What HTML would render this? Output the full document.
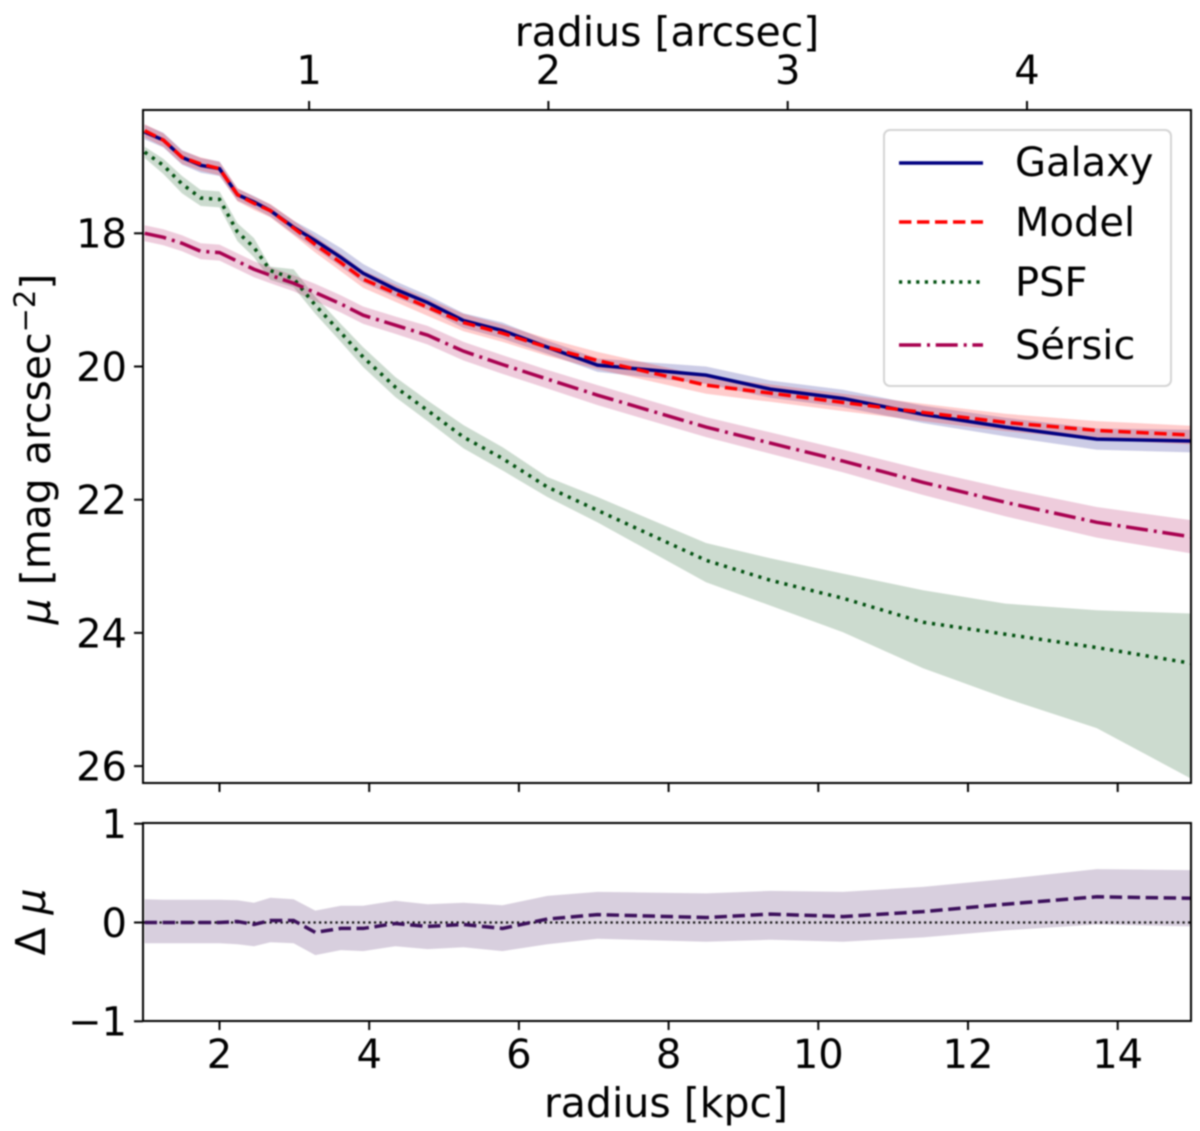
<!DOCTYPE html>
<html>
<head>
<meta charset="utf-8">
<title>Surface brightness profile</title>
<style>
html,body{margin:0;padding:0;background:#fff;width:1200px;height:1131px;overflow:hidden}
svg{display:block;filter:blur(0.7px)}
text{font-family:"DejaVu Sans","Liberation Sans",sans-serif;fill:#000}
</style>
</head>
<body>
<svg id="chart" xmlns="http://www.w3.org/2000/svg" width="1200" height="1131" viewBox="0 0 1200 1131">
  <defs>
    <clipPath id="clip-top"><rect x="143" y="110" width="1048" height="673"/></clipPath>
    <clipPath id="clip-bottom"><rect x="143" y="823" width="1048" height="198"/></clipPath>
  </defs>
  <rect x="0" y="0" width="1200" height="1131" fill="#fff"/>
  <g id="top-marks" clip-path="url(#clip-top)"></g>
  <g id="bottom-marks" clip-path="url(#clip-bottom)"></g>
  <g id="ticks"></g>
  <rect x="143" y="110" width="1048" height="673" fill="none" stroke="#000" stroke-width="2"/>
  <rect x="143" y="823" width="1048" height="198" fill="none" stroke="#000" stroke-width="2"/>

  <text x="667" y="46" font-size="41" text-anchor="middle">radius [arcsec]</text>
  <text x="666" y="1117" font-size="41" text-anchor="middle">radius [kpc]</text>
  <text transform="translate(50,449) rotate(-90)" font-size="41" text-anchor="middle"><tspan font-style="italic">μ</tspan> [mag arcsec<tspan font-size="29" dy="-15">−2</tspan><tspan dy="15">]</tspan></text>
  <text transform="translate(45,922) rotate(-90)" font-size="41" text-anchor="middle">Δ <tspan font-style="italic">μ</tspan></text>

  <g>
    <rect x="884" y="130" width="287" height="256" rx="6" ry="6" fill="#fff" fill-opacity="0.8" stroke="#d4d4d4" stroke-width="2"/>
    <line x1="899" x2="983" y1="163" y2="163" stroke="#000080" stroke-width="3.5"/>
    <text x="1015" y="176" font-size="40">Galaxy</text>
    <line x1="899" x2="983" y1="222" y2="222" stroke="#ff0000" stroke-width="3.5" stroke-dasharray="12.4 5.6"/>
    <text x="1015" y="236" font-size="40">Model</text>
    <line x1="899" x2="983" y1="282" y2="282" stroke="#00500f" stroke-width="3.5" stroke-dasharray="3.2 5.4"/>
    <text x="1015" y="296" font-size="40">PSF</text>
    <line x1="899" x2="983" y1="345" y2="345" stroke="#a8004f" stroke-width="3.5" stroke-dasharray="22 6 3 5.7"/>
    <text x="1015" y="359" font-size="40">Sérsic</text>
  </g>
</svg>
<script>
// Chart data
const radiusKpc = [1.0,1.25,1.5,1.75,2.0,2.24,2.46,2.68,2.99,3.28,3.62,3.92,4.35,4.78,5.26,5.78,6.38,7.05,8.5,9.36,10.33,11.4,12.5,13.72,15];
const galaxyMu = [16.48,16.60,16.86,16.98,17.03,17.42,17.53,17.66,17.91,18.11,18.36,18.60,18.84,19.04,19.31,19.46,19.71,19.98,20.13,20.34,20.48,20.72,20.91,21.09,21.12];
const galaxyErr = [0.11,0.11,0.11,0.11,0.11,0.09,0.09,0.09,0.10,0.12,0.14,0.14,0.12,0.11,0.11,0.12,0.10,0.10,0.13,0.13,0.13,0.13,0.14,0.16,0.17];
const modelMu = [16.46,16.60,16.86,16.96,17.03,17.42,17.55,17.66,17.92,18.17,18.44,18.69,18.90,19.11,19.34,19.50,19.71,19.91,20.28,20.40,20.54,20.69,20.84,20.96,21.03];
const modelErr = [0.10,0.10,0.10,0.10,0.10,0.10,0.10,0.10,0.11,0.12,0.13,0.13,0.13,0.13,0.13,0.13,0.13,0.13,0.13,0.13,0.13,0.13,0.13,0.14,0.14];
const psfMu = [16.78,16.98,17.26,17.47,17.49,17.98,18.21,18.56,18.68,19.08,19.49,19.86,20.31,20.66,21.06,21.38,21.81,22.16,22.91,23.21,23.48,23.84,24.02,24.22,24.46];
const psfUpper = [16.70,16.88,17.14,17.35,17.37,17.85,18.07,18.50,18.54,18.95,19.36,19.71,20.16,20.51,20.88,21.21,21.66,21.96,22.65,22.88,23.11,23.36,23.56,23.66,23.71];
const psfLower = [16.87,17.11,17.40,17.59,17.61,18.12,18.36,18.70,18.81,19.21,19.63,20.01,20.46,20.82,21.23,21.56,21.96,22.34,23.24,23.59,23.99,24.53,24.98,25.43,26.2];
const sersicMu = [18.0,18.06,18.15,18.27,18.29,18.42,18.54,18.63,18.75,18.89,19.06,19.23,19.38,19.53,19.77,19.97,20.19,20.43,20.91,21.15,21.42,21.74,22.04,22.34,22.56];
const sersicErr = [0.12,0.12,0.12,0.12,0.12,0.12,0.12,0.12,0.12,0.13,0.13,0.13,0.13,0.14,0.14,0.14,0.14,0.15,0.15,0.16,0.17,0.19,0.21,0.23,0.25];
const residual = [0.0,0.0,0.0,0.0,0.0,0.01,-0.02,0.02,0.02,-0.10,-0.06,-0.06,-0.01,-0.04,-0.02,-0.06,0.035,0.08,0.05,0.085,0.06,0.11,0.185,0.26,0.245];
const residualUpper = [0.235,0.23,0.23,0.23,0.23,0.225,0.20,0.25,0.235,0.12,0.17,0.17,0.22,0.185,0.20,0.175,0.27,0.31,0.295,0.32,0.31,0.36,0.44,0.54,0.53];
const residualLower = [-0.21,-0.21,-0.21,-0.21,-0.21,-0.22,-0.24,-0.20,-0.21,-0.33,-0.28,-0.29,-0.24,-0.27,-0.25,-0.29,-0.22,-0.165,-0.195,-0.175,-0.195,-0.15,-0.08,-0.02,-0.04];
const kpcTicks = [2,4,6,8,10,12,14];
const arcsecTicks = [1,2,3,4];
const muTicks = [18,20,22,24,26];
const deltaTicks = [-1,0,1];
const kpcPerArcsec = 3.197;

// Axis functions
function xKpc(v){ return 219.5 + (v - 2) * 74.85; }
function xArcsec(v){ return xKpc(v * kpcPerArcsec); }
function yMu(v){ return 233.3 + (v - 18) * 66.6; }
function yDelta(v){ return 922.5 - v * 98.8; }

const NS = 'http://www.w3.org/2000/svg';
const topMarks = document.getElementById('top-marks');
const bottomMarks = document.getElementById('bottom-marks');
const ticksGroup = document.getElementById('ticks');

function linePoints(xs, ys, yFn){
  return xs.map(function(x, i){ return xKpc(x).toFixed(2) + ',' + yFn(ys[i]).toFixed(2); }).join(' ');
}
function bandPoints(xs, upper, lower, yFn){
  const a = xs.map(function(x, i){ return xKpc(x).toFixed(2) + ',' + yFn(upper[i]).toFixed(2); });
  const b = xs.map(function(x, i){ return xKpc(x).toFixed(2) + ',' + yFn(lower[i]).toFixed(2); }).reverse();
  return a.concat(b).join(' ');
}
function band(parent, upper, lower, yFn, color, opacity){
  const p = document.createElementNS(NS, 'polygon');
  p.setAttribute('points', bandPoints(radiusKpc, upper, lower, yFn));
  p.setAttribute('fill', color);
  p.setAttribute('fill-opacity', opacity);
  parent.appendChild(p);
  return p;
}
function curve(parent, values, yFn, color, dash, width){
  const p = document.createElementNS(NS, 'polyline');
  p.setAttribute('points', linePoints(radiusKpc, values, yFn));
  p.setAttribute('fill', 'none');
  p.setAttribute('stroke', color);
  p.setAttribute('stroke-width', width);
  if (dash) p.setAttribute('stroke-dasharray', dash);
  parent.appendChild(p);
  return p;
}
function plus(a, e){ return a.map(function(v, i){ return v + e[i]; }); }
function minus(a, e){ return a.map(function(v, i){ return v - e[i]; }); }

// Bands
const psfBand = band(topMarks, psfUpper, psfLower, yMu, '#004d10', 0.2);


const sersicBand = band(topMarks, minus(sersicMu, sersicErr), plus(sersicMu, sersicErr), yMu, '#a8004f', 0.2);


const galaxyBand = band(topMarks, minus(galaxyMu, galaxyErr), plus(galaxyMu, galaxyErr), yMu, '#000080', 0.2);


const modelBand = band(topMarks, minus(modelMu, modelErr), plus(modelMu, modelErr), yMu, '#ff0000', 0.2);



// Lines
const psfLine = curve(topMarks, psfMu, yMu, '#00500f', '3.2 5.8', 3.5);


const sersicLine = curve(topMarks, sersicMu, yMu, '#a8004f', '22 6 3 5.7', 3.5);


const galaxyLine = curve(topMarks, galaxyMu, yMu, '#000080', null, 3.5);


const modelLine = curve(topMarks, modelMu, yMu, '#ff0000', '12.4 5.6', 3.5);



// Residual panel
const resBand = band(bottomMarks, residualUpper, residualLower, yDelta, '#3b0f5b', 0.2);


const zeroLine = document.createElementNS(NS, 'line');


zeroLine.setAttribute('x1', 143);
zeroLine.setAttribute('x2', 1191);
zeroLine.setAttribute('y1', yDelta(0));
zeroLine.setAttribute('y2', yDelta(0));
zeroLine.setAttribute('stroke', '#111');
zeroLine.setAttribute('stroke-width', 2.2);
zeroLine.setAttribute('stroke-dasharray', '2.2 3.3');
bottomMarks.appendChild(zeroLine);
const resLine = curve(bottomMarks, residual, yDelta, '#3b0f5b', '12.4 5.6', 3.5);



// Ticks
function tickLine(x1, y1, x2, y2){
  const l = document.createElementNS(NS, 'line');
  l.setAttribute('x1', x1);
  l.setAttribute('y1', y1);
  l.setAttribute('x2', x2);
  l.setAttribute('y2', y2);
  l.setAttribute('stroke', '#000');
  l.setAttribute('stroke-width', 2);
  ticksGroup.appendChild(l);
  return l;
}
function tickText(x, y, anchor, str){
  const t = document.createElementNS(NS, 'text');
  t.setAttribute('x', x);
  t.setAttribute('y', y);
  t.setAttribute('font-size', 40);
  t.setAttribute('text-anchor', anchor);
  t.textContent = str;
  ticksGroup.appendChild(t);
  return t;
}
kpcTicks.forEach(function(v){
  const x = xKpc(v);
  const tMid = tickLine(x, 783, x, 792);
  
  
  const tLow = tickLine(x, 1021, x, 1030);
  
  
  const lab = tickText(x, 1068, 'middle', String(v));
  
  
});
arcsecTicks.forEach(function(v){
  const x = xArcsec(v);
  const t = tickLine(x, 110, x, 101);
  
  
  const lab = tickText(x, 84, 'middle', String(v));
  
  
});
muTicks.forEach(function(v){
  const y = yMu(v);
  const t = tickLine(143, y, 134, y);
  
  
  const lab = tickText(127, y + 14.4, 'end', String(v));
  
  
});
deltaTicks.forEach(function(v){
  const y = yDelta(v);
  const t = tickLine(143, y, 134, y);
  
  
  const lab = tickText(127, y + 14.4, 'end', String(v).replace('-', '\u2212'));
  
  
});
</script>
</body>
</html>
